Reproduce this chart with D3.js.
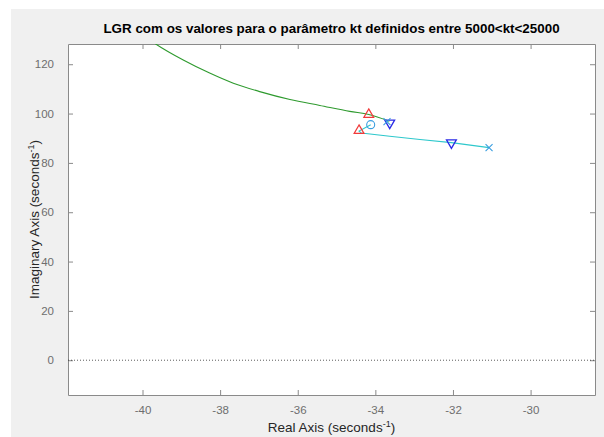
<!DOCTYPE html>
<html>
<head>
<meta charset="utf-8">
<script src="https://cdn.jsdelivr.net/npm/d3@7"></script>
<style>
  html, body { margin: 0; padding: 0; background: #ffffff; }
  svg { display: block; font-family: "Liberation Sans", Arial, Helvetica, sans-serif; }
</style>
</head>
<body>
<svg id="chart" width="604" height="437"></svg>
<script>
// ---- data ----
const titleText = "LGR com os valores para o parâmetro kt definidos entre 5000<kt<25000";
const xTicks = [-40, -38, -36, -34, -32, -30];
const yTicks = [0, 20, 40, 60, 80, 100, 120];
const xDomain = [-41.92, -28.34];
const yDomain = [-14.1, 128.2];

// green branch (real, imag)
const greenRe = [-39.85, -39.66, -38.95, -38.27, -37.66, -36.98, -36.20, -35.43, -34.66, -34.17, -33.64];
const greenIm = [130.5, 128.2, 121.7, 116.4, 112.3, 108.9, 105.7, 103.3, 100.9, 99.6, 96.9];

// cyan branch (real, imag)
const cyanRe = [-31.07, -32.04, -32.85, -33.63, -34.36, -34.42, -34.12];
const cyanIm = [86.2, 88.2, 89.5, 90.8, 92.1, 92.9, 95.5];

// markers
const redUpRe = [-34.17, -34.42];
const redUpIm = [99.6, 93.1];
const blueDownRe = [-33.63, -32.04];
const blueDownIm = [96.2, 88.2];
const poleRe = [-33.70, -31.07];
const poleIm = [96.7, 86.2];
const zeroRe = [-34.12];
const zeroIm = [95.5];

// ---- layout ----
const svg = d3.select("#chart");
const W = 604, H = 437;
const plot = { left: 68, top: 44, right: 595, bottom: 395 };

svg.append("rect").attr("x", 11).attr("y", 9).attr("width", W - 11).attr("height", H - 9).attr("fill", "#f0f0f0");
svg.append("rect").attr("x", plot.left).attr("y", plot.top)
  .attr("width", plot.right - plot.left).attr("height", plot.bottom - plot.top).attr("fill", "#ffffff");

const x = d3.scaleLinear().domain(xDomain).range([plot.left, plot.right]);
const y = d3.scaleLinear().domain(yDomain).range([plot.bottom, plot.top]);

svg.append("defs").append("clipPath").attr("id", "clip")
  .append("rect").attr("x", plot.left).attr("y", plot.top)
  .attr("width", plot.right - plot.left).attr("height", plot.bottom - plot.top);

const tickColor = "#6e6e6e";
const tickLen = 5;
const fmt = d => String(d);

// axes
const axB = svg.append("g").attr("transform", `translate(0,${plot.bottom})`)
  .call(d3.axisBottom(x).tickValues(xTicks).tickSizeInner(-tickLen).tickSizeOuter(0).tickPadding(11).tickFormat(fmt));
const axT = svg.append("g").attr("transform", `translate(0,${plot.top})`)
  .call(d3.axisTop(x).tickValues(xTicks).tickSizeInner(-tickLen).tickSizeOuter(0).tickFormat(""));
const axL = svg.append("g").attr("transform", `translate(${plot.left},0)`)
  .call(d3.axisLeft(y).tickValues(yTicks).tickSizeInner(-tickLen).tickSizeOuter(0).tickPadding(14).tickFormat(fmt));
const axR = svg.append("g").attr("transform", `translate(${plot.right},0)`)
  .call(d3.axisRight(y).tickValues(yTicks).tickSizeInner(-tickLen).tickSizeOuter(0).tickFormat(""));

[axB, axT, axL, axR].forEach(g => {
  g.select(".domain").attr("stroke", "#8a8a8a");
  g.selectAll(".tick line").attr("stroke", "#8a8a8a");
  g.selectAll(".tick text").attr("fill", tickColor).attr("font-size", 11.5)
    .attr("font-family", "Liberation Sans, Arial, sans-serif");
});
axB.selectAll(".tick text").attr("dy", "0.71em");

// data layer
const layer = svg.append("g").attr("clip-path", "url(#clip)");

// zero line (dotted)
layer.append("line")
  .attr("x1", plot.left).attr("x2", plot.right)
  .attr("y1", y(0)).attr("y2", y(0))
  .attr("stroke", "#333").attr("stroke-width", 0.8).attr("stroke-dasharray", "1,2");

layer.append("path").datum(greenRe.map((r, i) => [r, greenIm[i]]))
  .attr("d", d3.line().x(d => x(d[0])).y(d => y(d[1])).curve(d3.curveCatmullRom)).attr("fill", "none")
  .attr("stroke", "#2e9a2e").attr("stroke-width", 1.1);

layer.append("path").datum(cyanRe.map((r, i) => [r, cyanIm[i]]))
  .attr("d", d3.line().x(d => x(d[0])).y(d => y(d[1]))).attr("fill", "none")
  .attr("stroke", "#2ec8cc").attr("stroke-width", 1.1);

// markers
const triUp = d3.symbol().type(d3.symbolTriangle).size(42);
layer.selectAll(".redtri").data(redUpRe.map((r, i) => [r, redUpIm[i]])).enter()
  .append("path").attr("d", triUp)
  .attr("transform", d => `translate(${x(d[0])},${y(d[1])})`)
  .attr("fill", "none").attr("stroke", "#f03a3a").attr("stroke-width", 1.2);

layer.selectAll(".bluetri").data(blueDownRe.map((r, i) => [r, blueDownIm[i]])).enter()
  .append("path").attr("d", triUp)
  .attr("transform", d => `translate(${x(d[0])},${y(d[1])}) rotate(180)`)
  .attr("fill", "none").attr("stroke", "#2a2ae6").attr("stroke-width", 1.3);

layer.selectAll(".pole").data(poleRe.map((r, i) => [r, poleIm[i]])).enter()
  .append("path").attr("d", "M-3.5,-3.5L3.5,3.5M-3.5,3.5L3.5,-3.5")
  .attr("transform", d => `translate(${x(d[0])},${y(d[1])})`)
  .attr("fill", "none").attr("stroke", "#3a9ee0").attr("stroke-width", 1.1);

layer.selectAll(".zero").data(zeroRe.map((r, i) => [r, zeroIm[i]])).enter()
  .append("circle").attr("r", 4)
  .attr("cx", d => x(d[0])).attr("cy", d => y(d[1]))
  .attr("fill", "none").attr("stroke", "#3a9ee0").attr("stroke-width", 1.1);

// title
svg.append("text").attr("x", (plot.left + plot.right) / 2).attr("y", 33)
  .attr("text-anchor", "middle").attr("font-size", 13.4).attr("font-weight", "bold")
  .attr("fill", "#000").text(titleText);

// x label
const xl = svg.append("text").attr("x", (plot.left + plot.right) / 2).attr("y", 432)
  .attr("text-anchor", "middle").attr("font-size", 13.5).attr("fill", "#262626");
xl.append("tspan").text("Real Axis (seconds");
xl.append("tspan").attr("font-size", 9).attr("dy", -5).text("-1");
xl.append("tspan").attr("dy", 5).text(")");

// y label
const yl = svg.append("text")
  .attr("transform", `translate(39,${(plot.top + plot.bottom) / 2}) rotate(-90)`)
  .attr("text-anchor", "middle").attr("font-size", 13.5).attr("fill", "#262626");
yl.append("tspan").text("Imaginary Axis (seconds");
yl.append("tspan").attr("font-size", 9).attr("dy", -5).text("-1");
yl.append("tspan").attr("dy", 5).text(")");
</script>
</body>
</html>
